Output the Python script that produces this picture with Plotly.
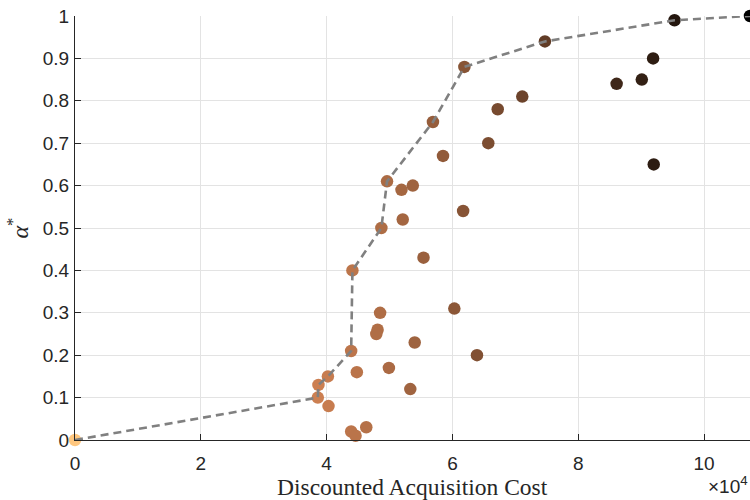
import plotly.graph_objects as go

# Data (cost in units of 1e4 dollars, alpha*)
cost_e4 = [0, 3.86, 3.87, 4.02, 4.03, 4.39, 4.41, 4.48, 4.39, 4.46, 4.63, 4.81, 4.79,
           4.85, 4.87, 4.96, 4.99, 5.19, 5.21, 5.37, 5.33, 5.40, 5.54, 5.69, 5.85, 6.03,
           6.17, 6.19, 6.39, 6.57, 6.72, 7.11, 7.47, 8.61, 9.01, 9.19, 9.20, 9.53, 10.73]
alpha = [0, 0.10, 0.13, 0.15, 0.08, 0.21, 0.40, 0.16, 0.02, 0.01, 0.03, 0.26, 0.25,
         0.30, 0.50, 0.61, 0.17, 0.59, 0.52, 0.60, 0.12, 0.23, 0.43, 0.75, 0.67, 0.31,
         0.54, 0.88, 0.20, 0.70, 0.78, 0.81, 0.94, 0.84, 0.85, 0.90, 0.65, 0.99, 1.0]

frontier_cost_e4 = [0, 3.86, 3.87, 4.02, 4.39, 4.41, 4.87, 4.96, 5.69, 6.19, 7.47, 9.53, 10.73]
frontier_alpha = [0, 0.10, 0.13, 0.15, 0.21, 0.40, 0.50, 0.61, 0.75, 0.88, 0.94, 0.99, 1.0]

x_ticks_e4 = [0, 2, 4, 6, 8, 10]
y_ticks = [0, 0.1, 0.2, 0.3, 0.4, 0.5, 0.6, 0.7, 0.8, 0.9, 1]
y_ticklabels = ["0", "0.1", "0.2", "0.3", "0.4", "0.5", "0.6", "0.7", "0.8", "0.9", "1"]

cost = [c * 1e4 for c in cost_e4]
frontier_cost = [c * 1e4 for c in frontier_cost_e4]
xmax = max(cost)

# reversed MATLAB "copper" colormap
copper_r = [
    [0.0, "rgb(255,199,127)"],
    [0.2, "rgb(255,159,101)"],
    [1.0, "rgb(0,0,0)"],
]

fig = go.Figure()
fig.add_trace(go.Scatter(
    x=cost, y=alpha, mode="markers",
    marker=dict(size=12.5, color=cost, colorscale=copper_r, cmin=0, cmax=xmax,
                line=dict(width=0)),
    cliponaxis=False, showlegend=False,
))
fig.add_trace(go.Scatter(
    x=frontier_cost, y=frontier_alpha, mode="lines",
    line=dict(color="#808080", width=2.6, dash="8px,5px"),
    cliponaxis=False, showlegend=False,
))

axis_common = dict(
    showline=True, linecolor="#262626", linewidth=1.2,
    ticks="inside", ticklen=6, tickcolor="#262626", tickwidth=1,
    showgrid=True, gridcolor="#e3e3e3", gridwidth=1,
    zeroline=False, mirror=False,
    tickfont=dict(family="Liberation Sans, Arial", size=19, color="#262626"),
)

fig.update_layout(
    width=750, height=500,
    margin=dict(l=75, r=0, t=16, b=60),
    paper_bgcolor="white", plot_bgcolor="white",
    xaxis=dict(range=[0, xmax], tickvals=[t * 1e4 for t in x_ticks_e4],
               ticktext=[str(t) for t in x_ticks_e4],
               ticklabelstandoff=6,
               **axis_common),
    yaxis=dict(range=[0, 1], tickvals=y_ticks, ticktext=y_ticklabels,
               ticklabelstandoff=1,
               title=dict(text="<i>α</i><sup>*</sup>",
                          font=dict(family="Liberation Serif, DejaVu Serif", size=24, color="#262626"),
                          standoff=7),
               **axis_common),
    annotations=[
        dict(x=0.5, y=0, xref="paper", yref="paper", xanchor="center", yanchor="middle",
             yshift=-47, text="Discounted Acquisition Cost", showarrow=False,
             font=dict(family="Liberation Serif, DejaVu Serif", size=23.5, color="#262626")),
        dict(x=1, y=0, xref="paper", yref="paper", xanchor="right", yanchor="bottom",
             yshift=-59, text="×10<sup>4</sup>", showarrow=False,
             font=dict(family="Liberation Sans, Arial", size=19, color="#262626")),
    ],
)

fig.write_html("out.html")
